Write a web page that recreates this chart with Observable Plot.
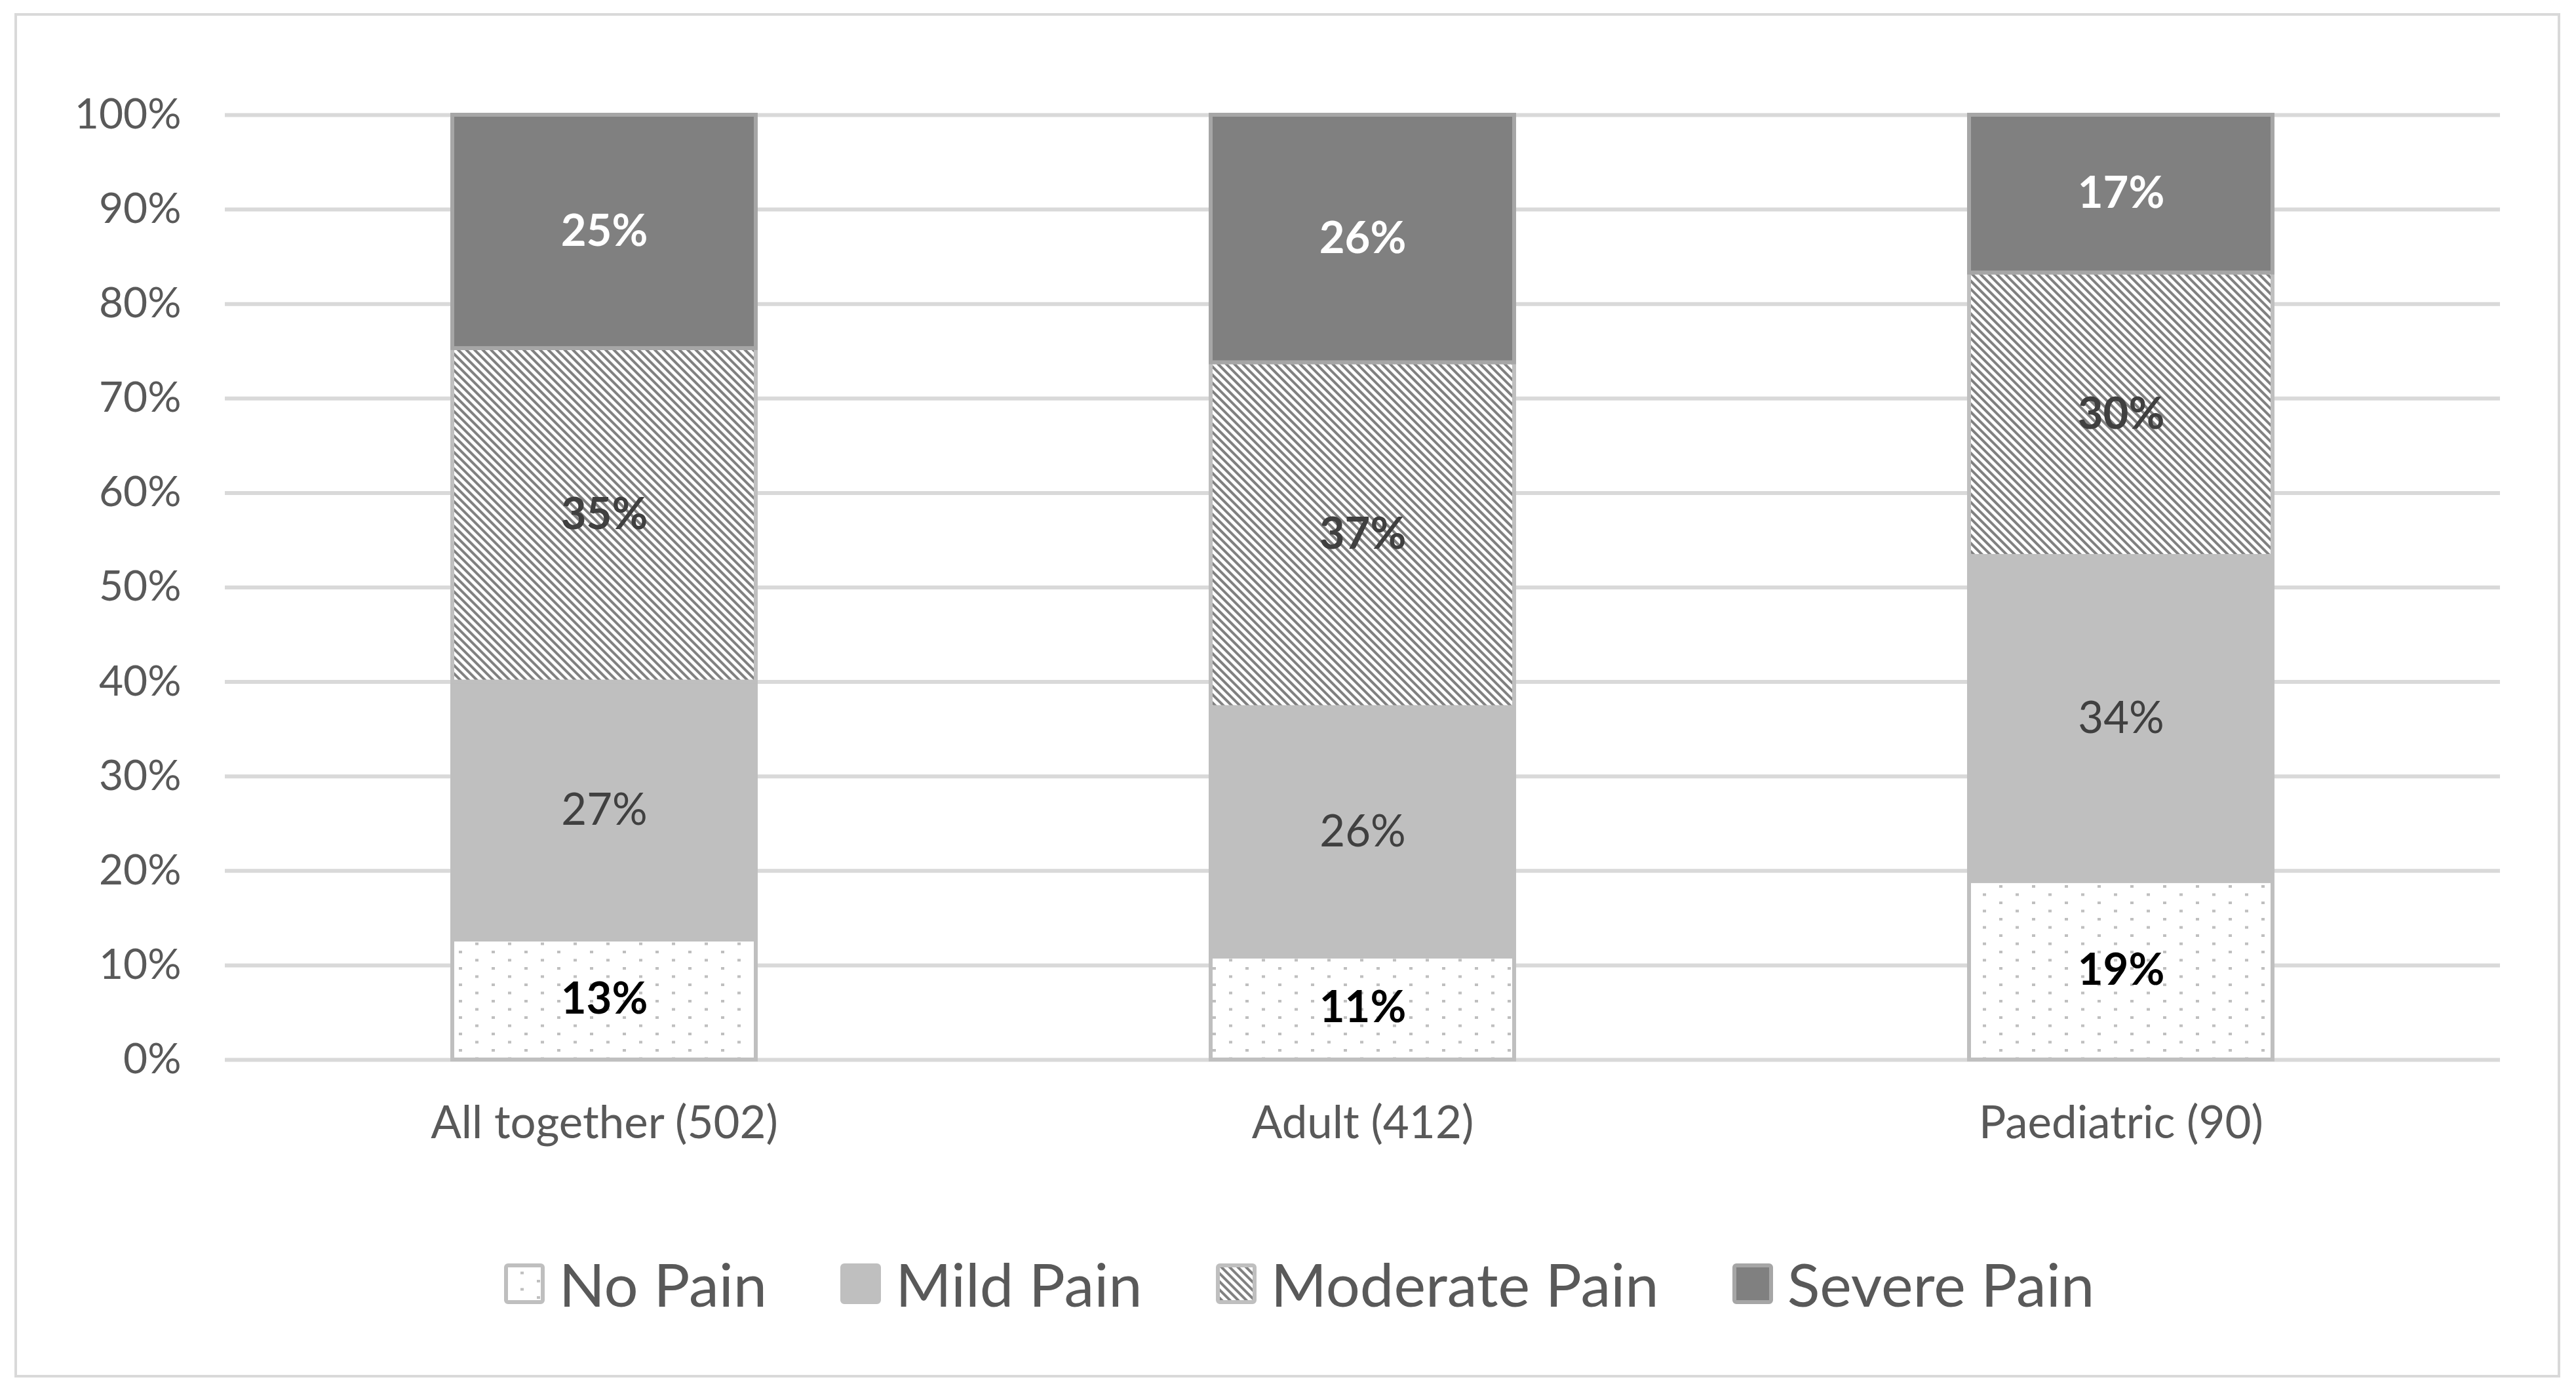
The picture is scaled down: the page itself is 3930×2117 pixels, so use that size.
<!DOCTYPE html>
<html>
<head>
<meta charset="utf-8">
<script src="https://cdn.jsdelivr.net/npm/d3@7"></script>
<script src="https://cdn.jsdelivr.net/npm/@observablehq/plot@0.6"></script>
<style>
  html, body { margin: 0; padding: 0; background: #ffffff; }
  #wrap { position: relative; width: 3930px; height: 2117px; overflow: hidden; font-family: Lato, "Open Sans", sans-serif; }
  #frame { position: absolute; left: 22px; top: 20px; width: 3884px; height: 2081px; box-sizing: border-box; border: 4px solid #d9d9d9; pointer-events: none; }
  #chart { position: absolute; left: 0; top: 0; }
  #legend { position: absolute; left: 17px; top: 1912px; width: 3930px; display: flex; justify-content: center; align-items: center; font-size: 92px; line-height: 1; color: #595959; }
  .item { display: flex; align-items: center; margin: 0 56px; }
  .item svg { margin-right: 22px; display: block; }
</style>
</head>
<body>
<div id="wrap">
  <div id="chart"></div>
  <div id="legend"></div>
  <div id="frame"></div>
</div>
<script>
// ---- data ----
const categories = ["All together (502)", "Adult (412)", "Paediatric (90)"];
const series = ["No Pain", "Mild Pain", "Moderate Pain", "Severe Pain"];
const noPain = [12.7, 10.9, 18.9];
const mildPain = [27.3, 26.4, 34.4];
const moderatePain = [35.3, 36.5, 30.0];
const severePain = [24.7, 26.2, 16.7];
const yTicks = [0, 10, 20, 30, 40, 50, 60, 70, 80, 90, 100];

// ---- styles ----
const look = {
  "No Pain":       {fill: "url(#pat-dots)", stroke: "#bfbfbf", label: "#000000", bold: true},
  "Mild Pain":     {fill: "#bfbfbf",        stroke: "#bfbfbf", label: "#404040", bold: false},
  "Moderate Pain": {fill: "url(#pat-diag)", stroke: "#bfbfbf", label: "#404040", bold: true},
  "Severe Pain":   {fill: "#808080",        stroke: "#a6a6a6", label: "#ffffff", bold: true}
};

const valuesBySeries = [noPain, mildPain, moderatePain, severePain];
const rows = [];
categories.forEach((c, i) => {
  series.forEach((s, j) => rows.push({category: c, series: s, value: valuesBySeries[j][i]}));
});

const W = 3930, H = 1800;
const labelText = d => Math.round(d.value) + "%";

const chart = Plot.plot({
  width: W,
  height: H,
  marginTop: 175,
  marginBottom: H - 1616,
  marginLeft: 343,
  marginRight: W - 3814,
  style: {fontFamily: "Lato, 'Open Sans', sans-serif", color: "#595959", background: "transparent"},
  x: {domain: categories, paddingInner: 0.6, paddingOuter: 0.3, label: null},
  y: {domain: [0, 100], label: null},
  color: {type: "identity"},
  marks: [
    Plot.ruleY(yTicks, {stroke: "#d9d9d9", strokeWidth: 6}),
    Plot.barY(rows, {
      x: "category", y: "value", z: "series", order: series,
      fill: d => look[d.series].fill,
      stroke: d => look[d.series].stroke,
      strokeWidth: 6
    }),
    Plot.text(rows, Plot.stackY({
      x: "category", y: "value", z: "series", order: series,
      text: d => look[d.series].bold ? labelText(d) : null,
      fill: d => look[d.series].label,
      fontSize: 67, fontWeight: "bold"
    })),
    Plot.text(rows, Plot.stackY({
      x: "category", y: "value", z: "series", order: series,
      text: d => look[d.series].bold ? null : labelText(d),
      fill: d => look[d.series].label,
      fontSize: 67, fontWeight: "normal"
    })),
    Plot.axisY({ticks: yTicks, tickSize: 0, tickPadding: 67, tickFormat: d => d + "%", fontSize: 64, label: null}),
    Plot.axisX({tickSize: 0, tickPadding: 70, fontSize: 69, label: null})
  ]
});

// pattern definitions
const defs = d3.select(chart).insert("defs", ":first-child");
const dots = defs.append("pattern").attr("id", "pat-dots").attr("patternUnits", "userSpaceOnUse")
  .attr("width", 50).attr("height", 25);
dots.append("rect").attr("width", 50).attr("height", 25).attr("fill", "#ffffff");
dots.append("rect").attr("x", 0).attr("y", 0).attr("width", 5).attr("height", 4).attr("fill", "#bfbfbf");
dots.append("rect").attr("x", 25).attr("y", 12.5).attr("width", 5).attr("height", 4).attr("fill", "#bfbfbf");
const diag = defs.append("pattern").attr("id", "pat-diag").attr("patternUnits", "userSpaceOnUse")
  .attr("width", 8.84).attr("height", 8.84).attr("patternTransform", "rotate(-45)");
diag.append("rect").attr("width", 8.84).attr("height", 8.84).attr("fill", "#ffffff");
diag.append("rect").attr("x", 0).attr("y", 0).attr("width", 4.0).attr("height", 8.84).attr("fill", "#808080");

document.getElementById("chart").appendChild(chart);

// legend
const legend = d3.select("#legend");
series.forEach(s => {
  const item = legend.append("div").attr("class", "item");
  const sw = item.append("svg").attr("width", 62).attr("height", 62);
  sw.append("rect").attr("x", 3).attr("y", 3).attr("width", 56).attr("height", 56).attr("rx", 3)
    .attr("fill", look[s].fill).attr("stroke", look[s].stroke).attr("stroke-width", 6);
  item.append("span").text(s);
});
</script>
</body>
</html>
